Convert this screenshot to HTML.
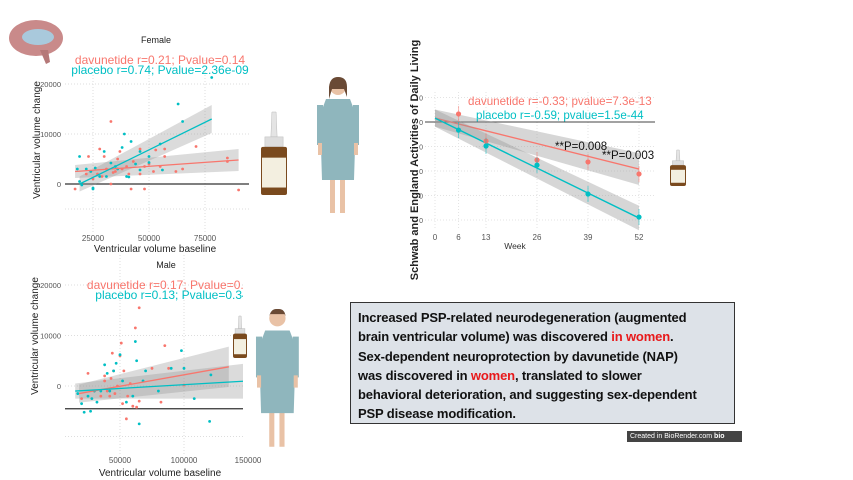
<!DOCTYPE html>
<html><head><meta charset="utf-8"><style>
body{margin:0;background:#fff;}
#root{position:relative;width:853px;height:480px;overflow:hidden;font-family:"Liberation Sans",sans-serif;}
svg text{font-family:"Liberation Sans",sans-serif;}
#box{position:absolute;left:350px;top:302px;width:385px;height:122px;background:#dde2e8;border:1.5px solid #333;box-sizing:border-box;padding:5px 0 0 7px;font-weight:bold;font-size:13px;line-height:19.3px;color:#111;white-space:nowrap;letter-spacing:-0.15px;}
#box .r{color:#e8191b;}
#badge{position:absolute;left:627px;top:431px;width:115px;height:11px;background:#444;color:#fff;font-size:7px;line-height:11px;padding-left:3px;box-sizing:border-box;}
</style></head><body>
<div id="root">
<svg id="svg" width="853" height="480"></svg>
<div id="box">Increased PSP-related neurodegeneration (augmented<br>brain ventricular volume) was discovered <span class="r">in women</span>.<br>Sex-dependent neuroprotection by davunetide (NAP)<br>was discovered in <span class="r">women</span>, translated to slower<br>behavioral deterioration, and suggesting sex-dependent<br>PSP disease modification.</div>
<div id="badge">Created in BioRender.com <b>bio</b></div>
</div>
<script>
// Female scatter data (baseline in thousands, change in thousands)
const femDavX=[17,22,23,25,27,28,29,30,31,33,33,35,36,37,38,40,42,43,46,46,48,48,50,52,53,55,57,57,62,65,71,85,85,90,24,34,41];
const femDavY=[-1,2,5.5,1,2,7,1.5,5.5,3,12.5,0,2.5,5,6.5,3,3.5,-1,4.5,7,2,-1,3.5,4,2.5,6.8,3.5,5.5,7,2.5,3,7.5,5.2,4.5,-1.2,2.5,2.3,2];
const femPlaX=[18,19,19,20,22,24,25,25,26,28,30,31,33,35,38,39,40,41,42,44,46,46,50,50,55,56,63,65,78,36];
const femPlaY=[3,0.5,5.5,-0.2,3,2.5,-0.8,-1,3.2,1.5,6.5,1.5,4.2,3.5,7.3,10,1.5,1.4,8.5,4,6.5,2.8,4.3,5.5,8,2.8,16,12.5,21.3,3];
const femDavLine=[[17,2.5],[90,4.8]];
const femPlaLine=[[19,0],[78,13]];
// Male scatter data
const maleDavX=[20,25,30,35,38,40,42,44,45,46,48,50,51,52,53,55,56,58,60,62,63,65,65,75,82,85,88,100,38,43];
const maleDavY=[-2.5,2.5,-1,-2,2,-1,-2,6.5,3,-1.5,0,6,8.5,-3.5,3,-6.5,-2,0.5,-4,11.5,-4.2,15.5,-3,3.5,-3.2,8,3.5,0.2,1,1.5];
const malePlaX=[17,20,22,25,27,28,30,32,35,38,40,42,45,47,50,52,55,60,62,63,65,68,70,80,90,98,100,108,120,121];
const malePlaY=[-1.5,-3.5,-5.2,-2,-5,-2.5,-1,-3.2,-1,4.2,2.5,-1,3,4.5,6.2,1,-3.2,-2,8.8,5,-7.5,1,3,-1,3.5,7,3.5,-2.5,-7,2.2];
const maleDavLine=[[18,-1.5],[135,3.8]];
const malePlaLine=[[15,-1],[150,1]];
// Schwab & England longitudinal data
const weeks=[6,13,26,39,52];
const weekTicks=[0,6,13,26,39,52];
const davMean=[0.33,-0.78,-1.55,-1.63,-2.12];
const plaMean=[-0.33,-0.98,-1.76,-2.94,-3.88];
const davFit=[0.16,-2.08];
const plaFit=[0.16,-4.08];
const seTicks=[1,0,-1,-2,-3,-4];

const NS="http://www.w3.org/2000/svg";
const svg=document.getElementById('svg');
function mk(tag,attrs,parent){const e=document.createElementNS(NS,tag);for(const k in attrs)e.setAttribute(k,attrs[k]);(parent||svg).appendChild(e);return e;}
function txt(s,attrs,parent){const e=mk('text',attrs,parent);e.textContent=s;return e;}
const RED='#f8766d',TEAL='#00bfc4';

function scatterPanel(o){
  const g=mk('g',{});
  
  
  const X=v=>o.x0+(v-o.bx0)*o.sx, Y=v=>o.y0-v*o.sy;
  const cp=mk('clipPath',{id:o.name+'-clip'},g);mk('rect',{x:o.left,y:o.top,width:o.right-o.left,height:o.bottom-o.top},cp);
  const inner=mk('g',{'clip-path':'url(#'+o.name+'-clip)'},g);
  o.yticks.forEach(t=>{mk('line',{x1:o.left,x2:o.right,y1:Y(t),y2:Y(t),stroke:'#ddd','stroke-dasharray':'1,2'},inner);});
  o.xticks.forEach(t=>{mk('line',{x1:X(t),x2:X(t),y1:o.top,y2:o.bottom,stroke:'#ddd','stroke-dasharray':'1,2'},inner);});
  mk('line',{x1:o.left,x2:o.right,y1:Y(o.hline),y2:Y(o.hline),stroke:'#333','stroke-width':1.2},inner);
  [[o.davLine,RED,o.davBand],[o.plaLine,TEAL,o.plaBand]].forEach(([ln,c,b])=>{
    const [a,z]=ln;
    const pts=[[X(a[0]),Y(a[1]+b[0])],[X(z[0]),Y(z[1]+b[1])],[X(z[0]),Y(z[1]-b[1])],[X(a[0]),Y(a[1]-b[0])]];
    const band=mk('polygon',{points:pts.map(p=>p.join(',')).join(' '),fill:'#999','fill-opacity':0.35},inner);
    
    
  });
  [[o.davX,o.davY,RED,'davunetide-point'],[o.plaX,o.plaY,TEAL,'placebo-point']].forEach(([xs,ys,c,n])=>{
    xs.forEach((v,i)=>{const p=mk('circle',{cx:X(v),cy:Y(ys[i]),r:1.4,fill:c},inner);
      
      });
  });
  [[o.davLine,RED,'davunetide-fit-line'],[o.plaLine,TEAL,'placebo-fit-line']].forEach(([ln,c,n])=>{
    const l=mk('line',{x1:X(ln[0][0]),y1:Y(ln[0][1]),x2:X(ln[1][0]),y2:Y(ln[1][1]),stroke:c,'stroke-width':1.3},inner);
    
    
  });
  o.yticks.forEach((t,i)=>{if(o.ylab[i]!=='')txt(o.ylab[i],{x:o.left-4,y:Y(t)+3,'font-size':7.5,fill:'#555','text-anchor':'end'},g);});
  o.xticks.forEach((t,i)=>{txt(o.xlab[i],{x:X(t),y:o.bottom+7,'font-size':8,fill:'#555','text-anchor':'middle'},g);});
  txt(o.title,{x:o.titleX,y:o.titleY,'font-size':9,fill:'#222','text-anchor':'middle'},g);
  txt(o.s1,{x:o.sX,y:o.titleY+21,'font-size':12,fill:RED,'text-anchor':'middle'},g);
  txt(o.s2,{x:o.sX,y:o.titleY+31,'font-size':12,fill:TEAL,'text-anchor':'middle'},g);
  const yl=txt('Ventricular volume change',{x:0,y:0,'font-size':10,fill:'#222','text-anchor':'middle',transform:`translate(${o.ylx},${o.yly}) rotate(-90)`},g);
  
  
  const xl=txt('Ventricular volume baseline',{x:o.xlx,y:o.xly,'font-size':10,fill:'#222','text-anchor':'middle'},g);
  
  
}
scatterPanel({name:'female-scatter',left:65,right:249,top:60,bottom:234,x0:93,bx0:25,sx:56/25,y0:184,sy:5,
 yticks:[20,10,0,-5],ylab:['20000','10000','0',''],xticks:[25,50,75],xlab:['25000','50000','75000'],hline:0,
 davX:femDavX,davY:femDavY,plaX:femPlaX,plaY:femPlaY,davLine:femDavLine,plaLine:femPlaLine,davBand:[1.3,2.2],plaBand:[1.5,2.8],
 title:'Female',titleX:156,titleY:43,sX:160,s1:'davunetide r=0.21; Pvalue=0.14',s2:'placebo r=0.74; Pvalue=2.36e-09',ylx:40,yly:140,xlx:155,xly:252});
scatterPanel({name:'male-scatter',left:65,right:243,top:255,bottom:456,x0:120,bx0:50,sx:1.28,y0:386,sy:5.05,
 yticks:[20,10,0,-10],ylab:['20000','10000','0',''],xticks:[50,100,150],xlab:['50000','100000','150000'],hline:-4.5,
 davX:maleDavX,davY:maleDavY,plaX:malePlaX,plaY:malePlaY,davLine:maleDavLine,plaLine:malePlaLine,davBand:[1.8,4],plaBand:[1.5,3.5],
 title:'Male',titleX:166,titleY:268,sX:172,s1:'davunetide r=0.17; Pvalue=0.26',s2:'placebo r=0.13; Pvalue=0.34',ylx:38,yly:336,xlx:160,xly:476});
// mask beyond male panel right edge
mk('rect',{x:243,y:255,width:14,height:200,fill:'#fff'});

// Right line chart
(function(){
  const g=mk('g',{});
  
  
  const X=w=>435+w*(639-435)/52, Y=v=>122-v*24.5;
  seTicks.forEach(t=>{mk('line',{x1:425,x2:655,y1:Y(t),y2:Y(t),stroke:'#e3e3e3','stroke-dasharray':'1,2'},g);
    txt('0',{x:423,y:Y(t)+3,'font-size':7,fill:'#555','text-anchor':'end'},g);});
  weekTicks.forEach(t=>{mk('line',{x1:X(t),x2:X(t),y1:92,y2:230,stroke:'#e3e3e3','stroke-dasharray':'1,2'},g);
    txt(String(t),{x:X(t),y:240,'font-size':8,fill:'#555','text-anchor':'middle'},g);});
  mk('line',{x1:425,x2:655,y1:Y(0),y2:Y(0),stroke:'#444','stroke-width':1},g);
  [[davFit,RED,[0.35,0.65]],[plaFit,TEAL,[0.35,0.5]]].forEach(([f,c,b])=>{
    const a=f[0],z=f[0]+f[1];
    const band=mk('polygon',{points:[[X(0),Y(a+b[0])],[X(52),Y(z+b[1])],[X(52),Y(z-b[1])],[X(0),Y(a-b[0])]].map(p=>p.join(',')).join(' '),fill:'#999','fill-opacity':0.4},g);
    
    
    const l=mk('line',{x1:X(0),y1:Y(a),x2:X(52),y2:Y(z),stroke:c,'stroke-width':1.4},g);
    
    
  });
  [[davMean,RED,'davunetide-mean'],[plaMean,TEAL,'placebo-mean']].forEach(([m,c,n])=>{
    weeks.forEach((w,i)=>{
      mk('line',{x1:X(w),x2:X(w),y1:Y(m[i])-8,y2:Y(m[i])+8,stroke:c,'stroke-opacity':0.5},g);
      const p=mk('circle',{cx:X(w),cy:Y(m[i]),r:2.6,fill:c},g);
      
      
    });
  });
  txt('davunetide r=-0.33; pvalue=7.3e-13',{x:468,y:105,'font-size':11.6,fill:RED},g);
  txt('placebo r=-0.59; pvalue=1.5e-44',{x:476,y:119,'font-size':11.6,fill:TEAL},g);
  txt('**P=0.008',{x:555,y:150,'font-size':11.5,fill:'#111'},g);
  txt('**P=0.003',{x:602,y:159,'font-size':11.5,fill:'#111'},g);
  txt('Week',{x:515,y:249,'font-size':8.5,fill:'#333','text-anchor':'middle'},g);
  const yl=txt('Schwab and England Activities of Daily Living',{x:0,y:0,'font-size':11,'font-weight':'bold',fill:'#222','text-anchor':'middle',transform:'translate(418,160) rotate(-90)'},g);
  
  
})();

// Illustrations
function bottle(x,y,w,h,name){
  const g=mk('g',{});
  mk('path',{d:`M${x+w*0.42},${y} L${x+w*0.58},${y} L${x+w*0.62},${y+h*0.3} L${x+w*0.38},${y+h*0.3}Z`,fill:'#e4e4e4',stroke:'#bbb','stroke-width':0.5},g);
  mk('rect',{x:x+w*0.15,y:y+h*0.3,width:w*0.7,height:h*0.12,fill:'#ddd',stroke:'#bbb','stroke-width':0.5},g);
  mk('rect',{x:x,y:y+h*0.42,width:w,height:h*0.58,rx:2,fill:'#7a4a1e'},g);
  mk('rect',{x:x+1,y:y+h*0.55,width:w-2,height:h*0.36,fill:'#f3efe0'},g);
}
bottle(261,112,26,83,'nasal-spray-bottle');
bottle(670,150,16,36,'nasal-spray-bottle');
bottle(233,316,14,42,'nasal-spray-bottle');
function person(x,y,s,name,female){
  const g=mk('g',{transform:`translate(${x},${y}) scale(${s})`});
  mk('rect',{x:12,y:100,width:5,height:38,fill:'#e9c2a6'},g);mk('rect',{x:22,y:100,width:5,height:38,fill:'#e9c2a6'},g);
  mk('path',{d:'M8,24 L32,24 L38,40 L36,105 L4,105 L2,40Z',fill:'#8fb6bd'},g);
  mk('rect',{x:-1,y:30,width:6,height:40,fill:'#8fb6bd'},g);mk('rect',{x:35,y:30,width:6,height:40,fill:'#8fb6bd'},g);
  mk('rect',{x:0,y:68,width:4,height:12,fill:'#e9c2a6'},g);mk('rect',{x:36,y:68,width:4,height:12,fill:'#e9c2a6'},g);
  mk('circle',{cx:20,cy:12,r:8,fill:'#e9c2a6'},g);
  mk('path',{d:female?'M11,12 Q12,2 20,2 Q29,2 29,12 L29,22 L26,14 L14,14 L11,24Z':'M12,10 Q14,2 20,3 Q27,2 28,10 L27,8 L13,8Z',fill:'#6a4a35'},g);
}
person(318,75,1.0,'female-patient',true);
person(257,306,1.02,'male-patient',false);
// brain
(function(){const g=mk('g',{});
 mk('ellipse',{cx:36,cy:38,rx:27,ry:18,fill:'#c98a8a'},g);
 mk('ellipse',{cx:38,cy:37,rx:16,ry:8,fill:'#a9c9dc'},g);
 mk('path',{d:'M40,50 L46,64 L50,62 L48,50Z',fill:'#b57878'},g);
})();
</script>
</body></html>
